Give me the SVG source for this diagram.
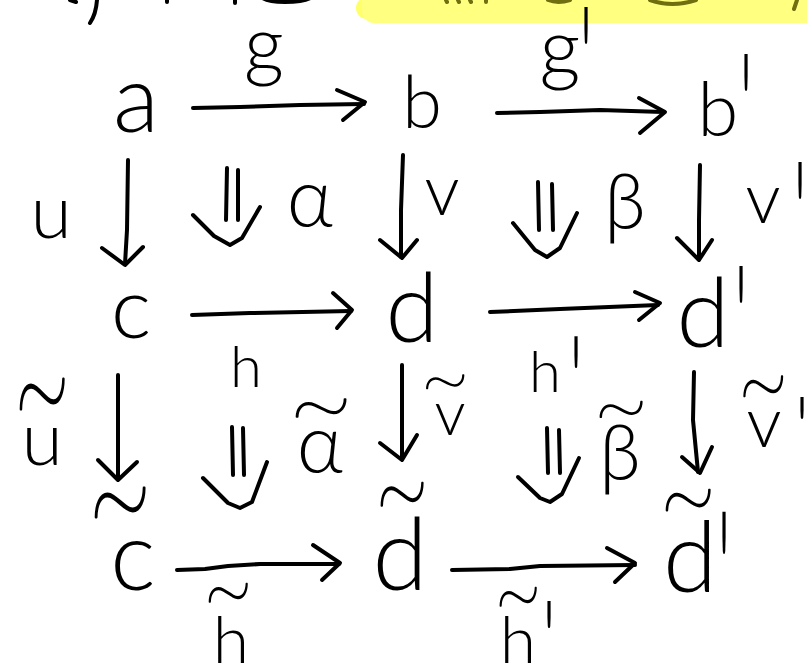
<svg xmlns="http://www.w3.org/2000/svg" width="807" height="665" viewBox="0 0 807 665">
<style>
  .t { font-family: "Lato", "DejaVu Sans", sans-serif; font-weight: 300; fill: #000; text-anchor: middle; }
  .tl { font-family: "Lato", "DejaVu Sans", sans-serif; font-weight: 100; fill: #000; stroke: #000; stroke-width: 1.3; stroke-linejoin: round; text-anchor: middle; font-size: 90px; }
  .pr { font-family: "Lato", "DejaVu Sans", sans-serif; font-weight: 300; fill: #000; text-anchor: middle; font-size: 140px; }
  .ln { fill: none; stroke: #000; stroke-width: 4; stroke-linecap: round; stroke-linejoin: round; }
  .frag { fill: none; stroke: #000; stroke-width: 4; stroke-linecap: round; }
  .fragY { fill: none; stroke: #6f6f10; stroke-width: 4; stroke-linecap: round; }
</style>
<rect width="807" height="665" fill="#ffffff"/>

<!-- cut-off strip at the top -->
<g id="top-strip">
  <circle cx="367" cy="8" r="11" fill="#ffff6a"/>
  <rect x="362" y="-12" width="460" height="35" rx="12" fill="#ffff80"/>
  <path class="frag" d="M97,0 Q96,14 90,23"/>
  <path class="frag" d="M70,0 L76,2"/>
  <path class="frag" d="M167,0 L167,2"/>
  <path class="frag" d="M235,0 L235,3"/>
  <path d="M258,-4 Q262,4 285,4 Q310,4 316,-4 Z" fill="#000"/>
  <path class="fragY" d="M446,0 L447,2 M458,0 L459,2 M470,0 L471,2 M486,0 L486,2"/>
  <path class="fragY" d="M548,0 Q558,4 570,0"/>
  <path class="fragY" d="M650,0 Q672,8 696,0"/>
  <path class="fragY" d="M797,0 L794,9"/>
</g>

<!-- connectors -->
<g id="connectors">
  <!-- horizontal arrows -->
  <path class="ln" d="M193,108 L240,107 L300,105 L364,104"/>
  <path class="ln" d="M337,90 L365,102 L343,120"/>
  <path class="ln" d="M497,113 L540,112 L600,110 L663,112"/>
  <path class="ln" d="M639,98 L665,112 L640,133"/>
  <path class="ln" d="M192,315 L250,313 L351,311"/>
  <path class="ln" d="M333,293 L352,310 L337,328"/>
  <path class="ln" d="M490,312 L560,309 L658,305"/>
  <path class="ln" d="M635,292 L660,303 L639,320"/>
  <path class="ln" d="M177,570 L205,569 L228,566 L260,564 L339,564"/>
  <path class="ln" d="M313,545 L340,563 L322,580"/>
  <path class="ln" d="M452,570 L510,569 L540,566 L635,565"/>
  <path class="ln" d="M607,548 L635,563 L615,582"/>
  <!-- vertical arrows -->
  <path class="ln" d="M128,160 L127,230 L125,264"/>
  <path class="ln" d="M102,248 L125,265 L143,247"/>
  <path class="ln" d="M403,155 L401,210 L401,257"/>
  <path class="ln" d="M380,240 L402,258 L417,240"/>
  <path class="ln" d="M700,165 L699,220 L699,259"/>
  <path class="ln" d="M677,238 L699,260 L712,240"/>
  <path class="ln" d="M118,375 L118,479"/>
  <path class="ln" d="M98,460 L118,480 L137,462"/>
  <path class="ln" d="M402,365 L402,459"/>
  <path class="ln" d="M380,443 L402,460 L417,435"/>
  <path class="ln" d="M694,372 L693,420 L698,472"/>
  <path class="ln" d="M682,457 L700,473 L712,447"/>
  <!-- double arrows (2-cells) -->
  <path class="ln" d="M227,168 L226,220 M238,170 L238,220"/>
  <path class="ln" d="M193,215 L214,236 L230,245 L242,238 L260,207"/>
  <path class="ln" d="M538,182 L539,230 M552,184 L553,230"/>
  <path class="ln" d="M513,223 L535,250 L547,257 L560,248 L577,213"/>
  <path class="ln" d="M232,427 L233,475 M243,428 L244,475"/>
  <path class="ln" d="M203,478 L228,503 L240,508 L252,502 L267,462"/>
  <path class="ln" d="M547,428 L548,473 M559,430 L560,473"/>
  <path class="ln" d="M518,477 L540,498 L550,502 L562,494 L579,458"/>
</g>

<!-- objects, top row -->
<g id="node-a"><text class="t" x="136" y="132" font-size="95">a</text></g>
<g id="node-b"><text class="t" x="422" y="128" font-size="72">b</text></g>
<g id="node-b1">
  <text class="t" x="718" y="136" font-size="74">b</text>
  <text class="pr" transform="translate(746,55) scale(0.55,1.1)" x="0" y="98">'</text>
</g>
<!-- middle row -->
<g id="node-c"><text class="t" x="131" y="338" font-size="85">c</text></g>
<g id="node-d"><text class="t" x="412" y="342" font-size="96">d</text></g>
<g id="node-d1">
  <text class="t" x="703" y="347" font-size="96">d</text>
  <text class="pr" transform="translate(741,267) scale(0.55,1.1)" x="0" y="98">'</text>
</g>
<!-- bottom row -->
<g id="node-ct">
  <text class="tl" transform="translate(120,510) scale(1.3,2.3)" x="0" y="23.5">~</text>
  <text class="t" x="133" y="590" font-size="96">c</text>
</g>
<g id="node-dt">
  <text class="tl" transform="translate(402,500) scale(1.1,1.8)" x="0" y="23.5">~</text>
  <text class="t" x="400" y="590" font-size="100">d</text>
</g>
<g id="node-dt1">
  <text class="tl" transform="translate(688,505) scale(1.15,1.65)" x="0" y="23.5">~</text>
  <text class="t" x="690" y="592" font-size="98">d</text>
  <text class="pr" transform="translate(724,513) scale(0.55,1.25)" x="0" y="98">'</text>
</g>

<!-- arrow labels -->
<g id="label-g"><text class="t" x="264" y="72" font-size="78">g</text></g>
<g id="label-g1">
  <text class="t" x="560" y="76" font-size="80">g</text>
  <text class="pr" transform="translate(586,8) scale(0.55,1.1)" x="0" y="98">'</text>
</g>
<g id="label-h"><text class="t" x="246" y="387" font-size="58">h</text></g>
<g id="label-h1">
  <text class="t" x="545" y="392" font-size="58">h</text>
  <text class="pr" transform="translate(576,337) scale(0.55,0.95)" x="0" y="98">'</text>
</g>
<g id="label-ht">
  <text class="tl" transform="translate(228,597) scale(1.0,1.45)" x="0" y="23.5">~</text>
  <text class="t" x="231" y="663" font-size="66">h</text>
</g>
<g id="label-ht1">
  <text class="tl" transform="translate(518,601) scale(0.95,1.45)" x="0" y="23.5">~</text>
  <text class="t" x="518" y="663" font-size="66">h</text>
  <text class="pr" transform="translate(549,603) scale(0.55,0.8)" x="0" y="98">'</text>
</g>
<g id="label-u"><text class="t" x="51" y="238" font-size="75">u</text></g>
<g id="label-ut">
  <text class="tl" transform="translate(42,402) scale(1.15,2.4)" x="0" y="23.5">~</text>
  <text class="t" x="42" y="465" font-size="75">u</text>
</g>
<g id="label-v"><text class="t" x="442" y="215" font-size="70">v</text></g>
<g id="label-vt">
  <text class="tl" transform="translate(445,385) scale(0.98,1.1)" x="0" y="23.5">~</text>
  <text class="t" x="450" y="435" font-size="62">v</text>
</g>
<g id="label-v1">
  <text class="t" x="763" y="223" font-size="70">v</text>
  <text class="pr" transform="translate(800,163) scale(0.55,1.1)" x="0" y="98">'</text>
</g>
<g id="label-vt1">
  <text class="tl" transform="translate(763,391) scale(1.02,1.6)" x="0" y="23.5">~</text>
  <text class="t" x="764" y="447" font-size="70">v</text>
  <text class="pr" transform="translate(802,397) scale(0.55,0.65)" x="0" y="98">'</text>
</g>
<g id="label-alpha"><text class="t" x="310" y="227" font-size="80">α</text></g>
<g id="label-alphat">
  <text class="tl" transform="translate(321,412) scale(1.3,1.4)" x="0" y="23.5">~</text>
  <text class="t" x="320" y="473" font-size="80">α</text>
</g>
<g id="label-beta"><text class="t" x="625" y="229" font-size="76">β</text></g>
<g id="label-betat">
  <text class="tl" transform="translate(621,414) scale(1.1,1.25)" x="0" y="23.5">~</text>
  <text class="t" x="620" y="480" font-size="76">β</text>
</g>
</svg>
